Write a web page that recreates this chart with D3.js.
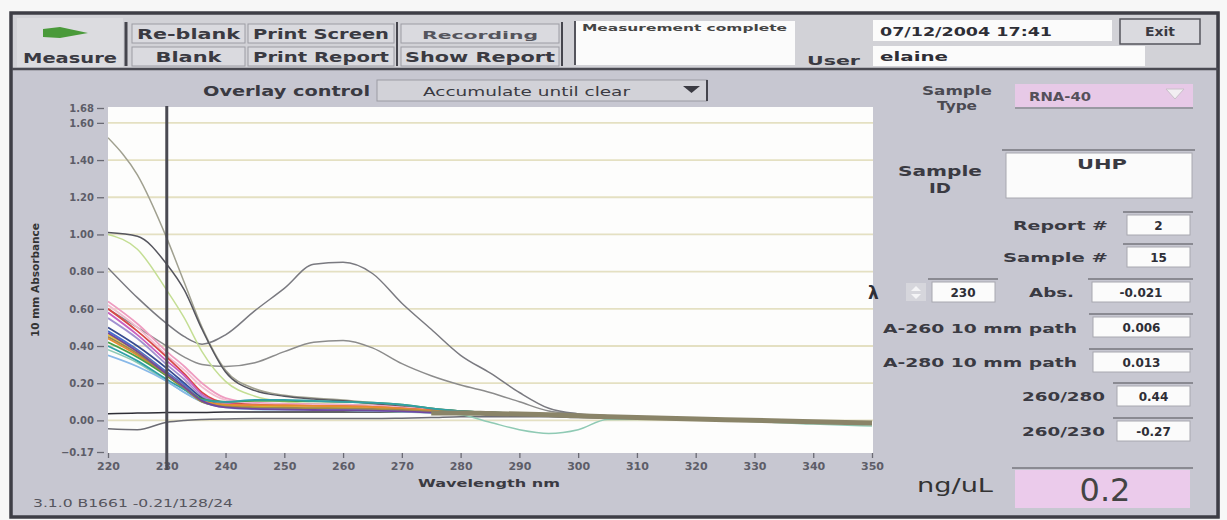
<!DOCTYPE html>
<html>
<head>
<meta charset="utf-8">
<script src="https://cdn.jsdelivr.net/npm/d3@7"></script>
<style>
  body { margin: 0; background: #f7f7f7; }
  svg { display: block; }
  text { font-family: "DejaVu Sans", Verdana, sans-serif; }
</style>
</head>
<body>
<svg id="chart"></svg>
<script>
// ---- chart data ----
const wavelengths = [220, 225, 230, 233, 236, 240, 245, 250, 255, 260, 265, 270, 275, 280, 285, 290, 295, 300, 305, 315, 325, 340, 350];
const xTicks = [220, 230, 240, 250, 260, 270, 280, 290, 300, 310, 320, 330, 340, 350];
const yTicks = [1.68, 1.60, 1.40, 1.20, 1.00, 0.80, 0.60, 0.40, 0.20, 0.00, -0.17];
const gridValues = [0.00, 0.20, 0.40, 0.60, 0.80, 1.00, 1.20, 1.40, 1.60];
const cursorWavelength = 230;

// one colour + one absorbance list per overlaid spectrum (drawn in this order)
const seriesColors = [
  "#6c6c74", "#2e2e36", "#8fcab4", "#8c8c8c", "#7a7a80", "#c4de94", "#a0a090", "#56565e",
  "#ee9cc0", "#f2bcd0", "#d84848", "#c860c0", "#a090d0", "#384c90", "#4870d0", "#e8c830",
  "#e88a30", "#48a048", "#30a0a8", "#88b8e8", "#a08848", "#7048a0"
];
const seriesValues = [
  [-0.045, -0.05, -0.01, 0.0, 0.005, 0.008, 0.01, 0.01, 0.01, 0.01, 0.01, 0.012, 0.015, 0.02, 0.02, 0.02, 0.02, 0.015, 0.012, 0.008, 0.0, -0.01, -0.017],
  [0.035, 0.04, 0.042, 0.043, 0.043, 0.045, 0.045, 0.045, 0.045, 0.045, 0.045, 0.045, 0.045, 0.042, 0.04, 0.036, 0.032, 0.026, 0.02, 0.01, 0.003, -0.008, -0.014],
  [0.38, 0.31, 0.21, 0.15, 0.10, 0.075, 0.065, 0.06, 0.06, 0.055, 0.05, 0.045, 0.04, 0.03, -0.01, -0.05, -0.07, -0.05, 0.005, 0.006, 0.0, -0.02, -0.03],
  [0.60, 0.50, 0.40, 0.34, 0.30, 0.29, 0.31, 0.37, 0.42, 0.43, 0.39, 0.305, 0.24, 0.19, 0.15, 0.10, 0.05, 0.035, 0.025, 0.012, 0.004, -0.008, -0.015],
  [0.82, 0.66, 0.52, 0.45, 0.41, 0.46, 0.59, 0.71, 0.84, 0.85, 0.79, 0.63, 0.49, 0.35, 0.255, 0.15, 0.065, 0.035, 0.025, 0.012, 0.004, -0.008, -0.015],
  [1.00, 0.92, 0.70, 0.55, 0.37, 0.21, 0.13, 0.10, 0.09, 0.085, 0.08, 0.07, 0.06, 0.048, 0.042, 0.037, 0.031, 0.026, 0.02, 0.01, 0.003, -0.008, -0.015],
  [1.52, 1.32, 0.98, 0.74, 0.50, 0.27, 0.17, 0.135, 0.12, 0.11, 0.095, 0.08, 0.065, 0.05, 0.042, 0.036, 0.03, 0.025, 0.02, 0.01, 0.003, -0.008, -0.015],
  [1.01, 0.99, 0.84, 0.70, 0.49, 0.26, 0.16, 0.13, 0.115, 0.105, 0.09, 0.075, 0.06, 0.05, 0.043, 0.037, 0.031, 0.026, 0.02, 0.01, 0.003, -0.008, -0.015],
  [0.64, 0.52, 0.37, 0.29, 0.20, 0.12, 0.095, 0.09, 0.088, 0.085, 0.08, 0.07, 0.058, 0.048, 0.042, 0.037, 0.032, 0.027, 0.021, 0.011, 0.004, -0.007, -0.014],
  [0.62, 0.50, 0.35, 0.27, 0.18, 0.11, 0.09, 0.085, 0.082, 0.08, 0.076, 0.068, 0.056, 0.047, 0.041, 0.036, 0.031, 0.026, 0.02, 0.01, 0.003, -0.008, -0.015],
  [0.60, 0.48, 0.34, 0.25, 0.15, 0.095, 0.085, 0.08, 0.078, 0.076, 0.072, 0.065, 0.055, 0.046, 0.041, 0.036, 0.031, 0.026, 0.02, 0.01, 0.003, -0.008, -0.015],
  [0.58, 0.46, 0.32, 0.24, 0.14, 0.09, 0.08, 0.076, 0.074, 0.072, 0.068, 0.062, 0.052, 0.045, 0.04, 0.035, 0.03, 0.025, 0.019, 0.009, 0.002, -0.009, -0.016],
  [0.55, 0.44, 0.30, 0.22, 0.13, 0.088, 0.075, 0.07, 0.07, 0.068, 0.065, 0.06, 0.05, 0.044, 0.039, 0.034, 0.029, 0.024, 0.018, 0.009, 0.002, -0.009, -0.016],
  [0.50, 0.40, 0.28, 0.20, 0.12, 0.08, 0.07, 0.066, 0.065, 0.064, 0.062, 0.056, 0.048, 0.043, 0.038, 0.033, 0.028, 0.023, 0.018, 0.008, 0.001, -0.01, -0.017],
  [0.48, 0.38, 0.26, 0.19, 0.11, 0.078, 0.068, 0.064, 0.062, 0.06, 0.058, 0.054, 0.046, 0.042, 0.037, 0.032, 0.028, 0.023, 0.017, 0.008, 0.001, -0.01, -0.017],
  [0.46, 0.37, 0.25, 0.18, 0.11, 0.08, 0.075, 0.072, 0.07, 0.068, 0.065, 0.058, 0.05, 0.044, 0.039, 0.034, 0.029, 0.024, 0.019, 0.009, 0.002, -0.009, -0.016],
  [0.44, 0.35, 0.24, 0.17, 0.105, 0.085, 0.082, 0.08, 0.078, 0.076, 0.072, 0.064, 0.053, 0.046, 0.04, 0.035, 0.03, 0.025, 0.019, 0.009, 0.002, -0.009, -0.016],
  [0.42, 0.34, 0.24, 0.175, 0.115, 0.10, 0.105, 0.105, 0.102, 0.10, 0.095, 0.085, 0.065, 0.05, 0.043, 0.037, 0.031, 0.026, 0.02, 0.01, 0.003, -0.008, -0.015],
  [0.40, 0.32, 0.22, 0.165, 0.11, 0.10, 0.11, 0.11, 0.105, 0.10, 0.095, 0.085, 0.065, 0.05, 0.043, 0.037, 0.031, 0.026, 0.02, 0.01, 0.003, -0.008, -0.015],
  [0.35, 0.29, 0.21, 0.15, 0.10, 0.07, 0.06, 0.058, 0.056, 0.055, 0.052, 0.048, 0.042, 0.04, 0.036, 0.032, 0.027, 0.022, 0.017, 0.008, 0.001, -0.01, -0.017],
  [0.45, 0.36, 0.245, 0.175, 0.10, 0.075, 0.07, 0.068, 0.066, 0.065, 0.062, 0.056, 0.048, 0.044, 0.039, 0.034, 0.029, 0.024, 0.018, 0.009, 0.002, -0.009, -0.016],
  [0.47, 0.37, 0.25, 0.18, 0.105, 0.07, 0.062, 0.058, 0.056, 0.055, 0.052, 0.048, 0.042, 0.04, 0.036, 0.032, 0.027, 0.022, 0.017, 0.008, 0.001, -0.01, -0.017]
];
// where all the overlays pile up into one thick olive trace
const overlapBand = [null, null, null, null, null, null, null, null, null, null, null, null, 0.04, 0.04, 0.037, 0.034, 0.03, 0.025, 0.02, 0.011, 0.004, -0.007, -0.014];

// ---- panel readouts ----
const topButtons = [
  { text: "Re-blank", x: 132, y: 24, w: 113, len: 103 },
  { text: "Blank", x: 132, y: 47, w: 113, len: 66 },
  { text: "Print Screen", x: 248, y: 24, w: 146, len: 136 },
  { text: "Print Report", x: 248, y: 47, w: 146, len: 136 },
  { text: "Recording", x: 401, y: 24, w: 158, len: 116 },
  { text: "Show Report", x: 401, y: 47, w: 158, len: 150 }
];
const readouts = [
  { label: "Report #", value: "2", ly: 230, bx: 1127, by: 215, bw: 63, lx: 1108, llen: 95 },
  { label: "Sample #", value: "15", ly: 262, bx: 1127, by: 247, bw: 63, lx: 1108, llen: 105 },
  { label: "Abs.", value: "-0.021", ly: 297, bx: 1092, by: 282, bw: 98, lx: 1074, llen: 45 },
  { label: "A-260 10 mm path", value: "0.006", ly: 333, bx: 1093, by: 317, bw: 97, lx: 1077, llen: 194 },
  { label: "A-280 10 mm path", value: "0.013", ly: 367, bx: 1093, by: 352, bw: 97, lx: 1077, llen: 194 },
  { label: "260/280", value: "0.44", ly: 401, bx: 1117, by: 386, bw: 73, lx: 1105, llen: 83 },
  { label: "260/230", value: "-0.27", ly: 436, bx: 1117, by: 421, bw: 73, lx: 1105, llen: 83 }
];

const W = 1227, H = 520;
const svg = d3.select("#chart").attr("width", W).attr("height", H);

function addText(x, y, str, size, opts) {
  opts = opts || {};
  const t = svg.append("text")
    .attr("x", x).attr("y", y)
    .attr("font-size", size)
    .attr("font-weight", opts.weight || "bold")
    .attr("fill", opts.fill || "#333")
    .attr("text-anchor", opts.anchor || "start")
    .text(str);
  if (opts.len) t.attr("textLength", opts.len).attr("lengthAdjust", "spacingAndGlyphs");
  return t;
}

function whiteBox(x, y, w, h) {
  svg.append("rect").attr("x", x).attr("y", y).attr("width", w).attr("height", h)
    .attr("fill", "#fbfbfb").attr("stroke", "#a8a8b0").attr("stroke-width", 1);
  svg.append("line").attr("x1", x - 4).attr("x2", x + w + 3).attr("y1", y - 3).attr("y2", y - 3)
    .attr("stroke", "#8a8a92").attr("stroke-width", 2);
}

// ---- window frame ----
svg.append("rect").attr("x", 10).attr("y", 12).attr("width", 1210).attr("height", 58).attr("fill", "#d2d2d7");
svg.append("rect").attr("x", 10).attr("y", 70).attr("width", 1210).attr("height", 448).attr("fill", "#c7c7d1");
svg.append("rect").attr("x", 11).attr("y", 13).attr("width", 1207).attr("height", 504)
  .attr("fill", "none").attr("stroke", "#3e3e46").attr("stroke-width", 3.5);
svg.append("line").attr("x1", 12).attr("x2", 1218).attr("y1", 69).attr("y2", 69)
  .attr("stroke", "#4a4a52").attr("stroke-width", 2.5);

// ---- top bar ----
svg.append("rect").attr("x", 17).attr("y", 18).attr("width", 106).attr("height", 49).attr("fill", "#dcdce0");
svg.append("polygon").attr("points", "43,29 60,27 88,33 60,38 43,37").attr("fill", "#4a9a3a");
addText(70, 63, "Measure", 14, { anchor: "middle", len: 94, fill: "#3a3a42" });
[126, 397, 562].forEach(sx => {
  svg.append("line").attr("x1", sx).attr("x2", sx).attr("y1", 22).attr("y2", 66)
    .attr("stroke", "#45454d").attr("stroke-width", sx === 126 ? 3 : 2);
});
topButtons.forEach(b => {
  svg.append("rect").attr("x", b.x).attr("y", b.y).attr("width", b.w).attr("height", 19)
    .attr("fill", "#dadadf").attr("stroke", "#9c9ca4").attr("stroke-width", 1);
  const small = b.text === "Recording";
  addText(b.x + b.w / 2, b.y + 15, b.text, small ? 10 : 14,
    { anchor: "middle", len: b.len, fill: small ? "#55555d" : "#3a3a42" });
});

svg.append("rect").attr("x", 575).attr("y", 21).attr("width", 220).attr("height", 44).attr("fill", "#fbfbfb");
svg.append("line").attr("x1", 575).attr("x2", 575).attr("y1", 21).attr("y2", 65).attr("stroke", "#55555d").attr("stroke-width", 2);
addText(582, 31, "Measurement complete", 9, { len: 205, fill: "#444" });
addText(807, 65, "User", 13, { len: 53, fill: "#3a3a42" });

svg.append("rect").attr("x", 873).attr("y", 20).attr("width", 239).attr("height", 21).attr("fill", "#fbfbfb");
addText(880, 36, "07/12/2004  17:41", 13, { len: 172, fill: "#2e2e36" });
svg.append("rect").attr("x", 873).attr("y", 46).attr("width", 272).attr("height", 20).attr("fill", "#fbfbfb");
addText(880, 61, "elaine", 13, { len: 68, fill: "#2e2e36" });
svg.append("rect").attr("x", 1120).attr("y", 19).attr("width", 80).attr("height", 25)
  .attr("fill", "#dadadf").attr("stroke", "#55555d").attr("stroke-width", 1.5);
addText(1160, 36, "Exit", 12, { anchor: "middle", len: 30, fill: "#3a3a42" });

// ---- overlay control ----
addText(203, 96, "Overlay control", 14, { len: 167, fill: "#3a3a42" });
svg.append("rect").attr("x", 377).attr("y", 80).attr("width", 330).attr("height", 21)
  .attr("fill", "#d2d2d8").attr("stroke", "#9c9ca4");
svg.append("line").attr("x1", 707).attr("x2", 707).attr("y1", 80).attr("y2", 101).attr("stroke", "#45454d").attr("stroke-width", 2);
addText(423, 96, "Accumulate until clear", 13, { weight: "normal", len: 207, fill: "#3a3a42" });
svg.append("polygon").attr("points", "683,86 700,86 691.5,93").attr("fill", "#3a3a42");

// ---- plot ----
const x = d3.scaleLinear().domain([220, 350]).range([108, 872]);
const y = d3.scaleLinear().domain([-0.17, 1.68]).range([452, 108]);

svg.append("rect").attr("x", 108).attr("y", 107).attr("width", 765).attr("height", 346).attr("fill", "#fdfdfc");
svg.append("defs").append("clipPath").attr("id", "plotClip")
  .append("rect").attr("x", 108).attr("y", 107).attr("width", 765).attr("height", 346);

svg.append("g").selectAll("line").data(gridValues).enter().append("line")
  .attr("x1", 108).attr("x2", 873)
  .attr("y1", d => y(d)).attr("y2", d => y(d))
  .attr("stroke", "#e4e0c2").attr("stroke-width", 1.8);

const line = d3.line()
  .defined(d => d[1] !== null)
  .x(d => x(d[0]))
  .y(d => y(d[1]))
  .curve(d3.curveMonotoneX);

const traces = svg.append("g").attr("clip-path", "url(#plotClip)");
seriesValues.forEach((vals, i) => {
  traces.append("path")
    .datum(wavelengths.map((w, j) => [w, vals[j]]))
    .attr("fill", "none")
    .attr("stroke", seriesColors[i])
    .attr("stroke-width", i >= 8 ? 1.8 : 1.5)
    .attr("d", line);
});
traces.append("path")
  .datum(wavelengths.map((w, j) => [w, overlapBand[j]]))
  .attr("fill", "none")
  .attr("stroke", "#8a8468")
  .attr("stroke-width", 5)
  .attr("d", line);

// y axis
const yAxis = svg.append("g")
  .attr("transform", "translate(104,0)")
  .call(d3.axisLeft(y).tickValues(yTicks).tickFormat(d3.format(".2f")).tickSize(7).tickPadding(3));
yAxis.select(".domain").remove();
yAxis.selectAll("line").attr("stroke", "#6a6a74").attr("stroke-width", 1.3);
yAxis.selectAll("text").attr("font-size", 10).attr("font-weight", "bold").attr("fill", "#5d5d68")
  .attr("font-family", "'DejaVu Sans', sans-serif");

// x axis
const xAxis = svg.append("g")
  .attr("transform", "translate(0,453)")
  .call(d3.axisBottom(x).tickValues(xTicks).tickSize(5).tickPadding(4));
xAxis.select(".domain").remove();
xAxis.selectAll("line").attr("stroke", "#6a6a74").attr("stroke-width", 1.3);
xAxis.selectAll("text").attr("font-size", 11).attr("font-weight", "bold").attr("fill", "#5d5d68")
  .attr("font-family", "'DejaVu Sans', sans-serif");

// cursor line at the selected wavelength
svg.append("line")
  .attr("x1", x(cursorWavelength)).attr("x2", x(cursorWavelength))
  .attr("y1", 106).attr("y2", 470)
  .attr("stroke", "#4a4a52").attr("stroke-width", 3);

addText(489, 487, "Wavelength nm", 11, { anchor: "middle", len: 142, fill: "#3a3a42" });
svg.append("text")
  .attr("transform", "translate(39,280) rotate(-90)")
  .attr("text-anchor", "middle")
  .attr("font-size", 10).attr("font-weight", "bold").attr("fill", "#333")
  .attr("textLength", 114).attr("lengthAdjust", "spacingAndGlyphs")
  .text("10 mm Absorbance");
addText(33, 507, "3.1.0 B1661 -0.21/128/24", 10, { weight: "normal", len: 200, fill: "#55555d" });

// ---- right panel ----
addText(957, 95, "Sample", 12, { anchor: "middle", len: 70, fill: "#4a4a52" });
addText(957, 110, "Type", 12, { anchor: "middle", len: 40, fill: "#4a4a52" });
svg.append("rect").attr("x", 1015).attr("y", 84).attr("width", 178).attr("height", 23).attr("fill", "#e7c9e7");
svg.append("line").attr("x1", 1015).attr("x2", 1193).attr("y1", 108).attr("y2", 108).attr("stroke", "#8a8a92").attr("stroke-width", 1.5);
addText(1060, 101, "RNA-40", 13, { anchor: "middle", len: 62, fill: "#55505a" });
svg.append("polygon").attr("points", "1166,89 1184,89 1175,99").attr("fill", "#f2eef2").attr("stroke", "#c9c0c9");

addText(940, 176, "Sample", 14, { anchor: "middle", len: 84, fill: "#3a3a42" });
addText(940, 193, "ID", 14, { anchor: "middle", len: 22, fill: "#3a3a42" });
whiteBox(1006, 153, 186, 45);
addText(1102, 169, "UHP", 14, { anchor: "middle", len: 50, fill: "#3a3a42" });

readouts.forEach(r => {
  addText(r.lx, r.ly, r.label, 13, { anchor: "end", len: r.llen, fill: "#3a3a42" });
  whiteBox(r.bx, r.by, r.bw, 20);
  addText(r.bx + r.bw / 2, r.by + 15, r.value, 12, { anchor: "middle", fill: "#2e2e36" });
});

addText(868, 299, "λ", 17, { fill: "#2e2e36" });
svg.append("rect").attr("x", 906).attr("y", 283).attr("width", 20).attr("height", 18).attr("fill", "#d6d6dc");
svg.append("polygon").attr("points", "911,291 921,291 916,286").attr("fill", "#f4f4f6");
svg.append("polygon").attr("points", "911,294 921,294 916,299").attr("fill", "#f4f4f6");
whiteBox(932, 282, 63, 20);
addText(963, 297, String(cursorWavelength), 12, { anchor: "middle", fill: "#2e2e36" });

addText(955, 492, "ng/uL", 20, { anchor: "middle", weight: "normal", len: 76, fill: "#333" });
svg.append("line").attr("x1", 1012).attr("x2", 1193).attr("y1", 468).attr("y2", 468).attr("stroke", "#8a8a92").attr("stroke-width", 2);
svg.append("rect").attr("x", 1015).attr("y", 470).attr("width", 175).attr("height", 38).attr("fill", "#ebcbeb");
addText(1105, 501, "0.2", 32, { anchor: "middle", weight: "normal", fill: "#444" });
</script>
</body>
</html>
